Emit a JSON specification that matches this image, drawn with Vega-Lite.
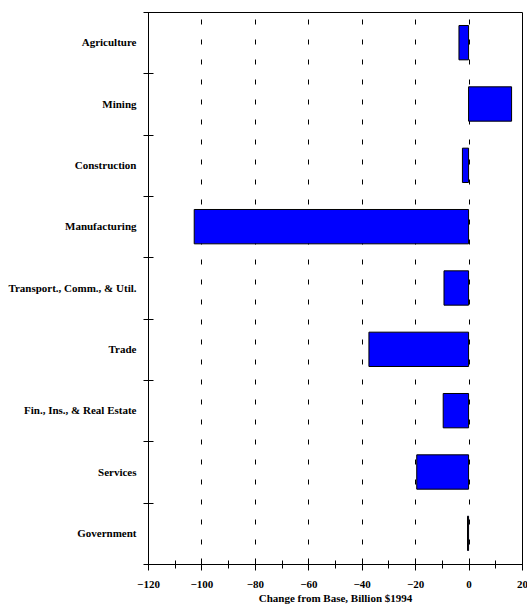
{
  "$schema": "https://vega.github.io/schema/vega-lite/v6.json",
  "autosize": "none",
  "width": 374,
  "height": 552,
  "padding": {"left": 148, "top": 12, "right": 5, "bottom": 42},
  "background": "white",
  "config": {
    "view": {"stroke": "black", "strokeWidth": 1},
    "font": "Liberation Serif"
  },
  "data": {
    "values": [
      {"sector": "Agriculture", "change": -3.6},
      {"sector": "Mining", "change": 16.1},
      {"sector": "Construction", "change": -2.3},
      {"sector": "Manufacturing", "change": -102.7},
      {"sector": "Transport., Comm., & Util.", "change": -9.2},
      {"sector": "Trade", "change": -37.3},
      {"sector": "Fin., Ins., & Real Estate", "change": -9.5},
      {"sector": "Services", "change": -19.4},
      {"sector": "Government", "change": -0.4}
    ]
  },
  "layer": [
    {
      "mark": {"type": "bar", "fill": "#0000FF", "stroke": "black", "strokeWidth": 1, "height": {"band": 0.56}},
      "encoding": {
        "y": {
          "field": "sector", "type": "nominal", "sort": null,
          "scale": {"paddingInner": 0, "paddingOuter": 0},
          "axis": {
            "title": null, "domain": false, "offset": -5, "tickSize": 10,
            "tickColor": "black", "tickWidth": 1, "tickBand": "extent",
            "labelPadding": 7, "labelFont": "Liberation Serif", "labelFontWeight": "bold",
            "labelFontSize": 11, "labelColor": "black", "labelLimit": 200
          }
        },
        "x": {
          "field": "change", "type": "quantitative",
          "scale": {"domain": [-120, 20], "nice": false, "zero": false},
          "axis": {
            "values": [-120, -100, -80, -60, -40, -20, 0, 20],
            "orient": "bottom", "domain": false, "offset": -6, "tickSize": 12,
            "tickColor": "black", "tickWidth": 1,
            "grid": true, "gridColor": "black", "gridWidth": 1, "gridDash": [5, 15], "gridOpacity": 1,
            "labelPadding": 8, "labelFont": "Liberation Serif", "labelFontWeight": "bold",
            "labelFontSize": 11, "labelColor": "black", "labelFlush": false,
            "title": "Change from Base, Billion $1994", "titleFont": "Liberation Serif",
            "titleFontWeight": "bold", "titleFontSize": 11, "titleColor": "black", "titlePadding": 3
          }
        }
      }
    },
    {
      "mark": {"type": "bar", "opacity": 0},
      "encoding": {
        "x": {
          "field": "change", "type": "quantitative",
          "axis": {
            "values": [-110, -90, -70, -50, -30, -10, 10],
            "orient": "bottom", "domain": false, "offset": -4, "tickSize": 8,
            "tickColor": "black", "tickWidth": 1, "labels": false, "grid": false, "title": null
          }
        }
      }
    }
  ],
  "resolve": {"axis": {"x": "independent"}}
}
